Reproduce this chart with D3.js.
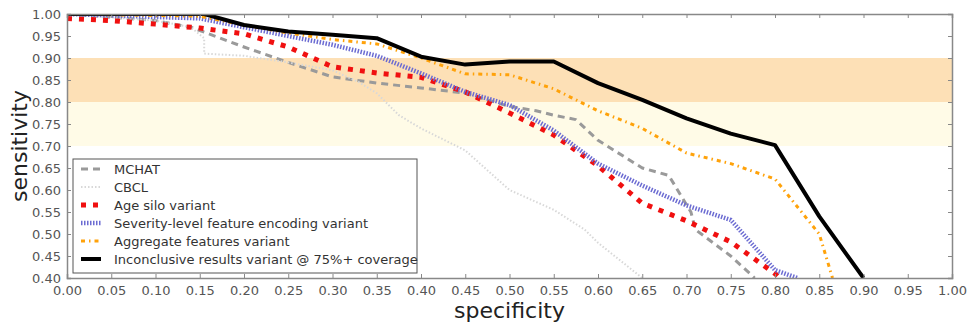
<!DOCTYPE html>
<html>
<head>
<meta charset="utf-8">
<script src="https://cdn.jsdelivr.net/npm/d3@7"></script>
<style>
  body { margin: 0; background: #fff; }
  text { font-family: "DejaVu Sans", sans-serif; }
</style>
</head>
<body>
<script>
// ROC-like curves: sensitivity vs specificity
var mchat = [[0,1.0],[0.10,0.985],[0.14,0.97],[0.16,0.955],[0.20,0.925],[0.25,0.89],[0.30,0.857],[0.35,0.843],[0.40,0.832],[0.45,0.82],[0.50,0.79],[0.53,0.78],[0.55,0.77],[0.575,0.76],[0.60,0.713],[0.65,0.65],[0.68,0.633],[0.705,0.55],[0.71,0.51],[0.75,0.45],[0.777,0.40]];
var cbcl = [[0,1.0],[0.10,0.985],[0.14,0.97],[0.155,0.945],[0.155,0.91],[0.20,0.905],[0.25,0.89],[0.30,0.872],[0.33,0.845],[0.35,0.82],[0.375,0.77],[0.40,0.74],[0.45,0.69],[0.50,0.60],[0.55,0.555],[0.585,0.51],[0.60,0.48],[0.65,0.40]];
var ageSilo = [[0,0.99],[0.05,0.985],[0.10,0.977],[0.15,0.968],[0.20,0.955],[0.25,0.925],[0.30,0.88],[0.35,0.866],[0.40,0.856],[0.45,0.823],[0.50,0.775],[0.55,0.725],[0.60,0.655],[0.65,0.57],[0.70,0.53],[0.75,0.482],[0.80,0.41],[0.805,0.40]];
var severity = [[0,1.0],[0.15,0.99],[0.20,0.97],[0.25,0.95],[0.30,0.93],[0.35,0.905],[0.40,0.865],[0.45,0.823],[0.50,0.793],[0.55,0.735],[0.60,0.66],[0.65,0.61],[0.70,0.565],[0.75,0.532],[0.80,0.418],[0.825,0.40]];
var aggregate = [[0,1.0],[0.15,0.995],[0.20,0.975],[0.25,0.957],[0.30,0.942],[0.35,0.932],[0.40,0.90],[0.45,0.864],[0.50,0.862],[0.55,0.83],[0.60,0.78],[0.65,0.74],[0.70,0.684],[0.75,0.66],[0.80,0.625],[0.85,0.50],[0.865,0.40]];
var inconclusive = [[0,1.0],[0.155,1.0],[0.20,0.975],[0.25,0.96],[0.30,0.953],[0.35,0.945],[0.40,0.903],[0.45,0.885],[0.50,0.892],[0.55,0.892],[0.60,0.843],[0.65,0.805],[0.70,0.763],[0.75,0.728],[0.80,0.702],[0.85,0.54],[0.90,0.40]];

var seriesNames = ["MCHAT", "CBCL", "Age silo variant", "Severity-level feature encoding variant", "Aggregate features variant", "Inconclusive results variant @ 75%+ coverage"];
var seriesData = [mchat, cbcl, ageSilo, severity, aggregate, inconclusive];
var bands = [[0.8, 0.9], [0.7, 0.8]];
var xTicks = d3.range(0, 1.0001, 0.05);
var yTicks = d3.range(0.40, 1.0001, 0.05);

var styles = [
    { color: "#9a9a9a", width: 3, dash: "7,5" },
    { color: "#d8d8d8", width: 2, dash: "1.5,2" },
    { color: "#f01010", width: 5, dash: "5,7" },
    { color: "#6b6bd2", width: 4.5, dash: "1.5,1.5" },
    { color: "#ffa20a", width: 3, dash: "4,4,1.5,4" },
    { color: "#000000", width: 4, dash: null }
];
var bandColors = ["#fde0b6", "#fffbe7"];

var margin = { top: 14, bottom: 47, left: 67, right: 16 };
var W = 968, H = 325;
var width = W - margin.left - margin.right;
var height = H - margin.top - margin.bottom;

var svg = d3.select("body").append("svg")
    .attr("width", W)
    .attr("height", H);

var chart = svg.append("g")
    .attr("transform", "translate(" + margin.left + "," + margin.top + ")");

var xScale = d3.scaleLinear().domain([0, 1]).range([0, width]);
var yScale = d3.scaleLinear().domain([0.4, 1.0]).range([height, 0]);

chart.append("clipPath").attr("id", "clip")
    .append("rect").attr("width", width).attr("height", height);

// shaded bands
chart.selectAll("rect.band")
    .data(bands)
    .enter().append("rect")
    .attr("class", "band")
    .attr("x", 0)
    .attr("width", width)
    .attr("y", d => yScale(d[1]))
    .attr("height", d => yScale(d[0]) - yScale(d[1]))
    .attr("fill", (d, i) => bandColors[i]);

var line = d3.line()
    .x(d => xScale(d[0]))
    .y(d => yScale(d[1]));

var lines = chart.append("g").attr("clip-path", "url(#clip)");
seriesData.forEach(function (s, i) {
    lines.append("path")
        .datum(s)
        .attr("d", line)
        .attr("fill", "none")
        .attr("stroke", styles[i].color)
        .attr("stroke-width", styles[i].width)
        .attr("stroke-dasharray", styles[i].dash)
        .attr("stroke-linejoin", "round");
});

// axes: ticks inside on all four sides
var fmt = d3.format(".2f");
var xAxis = chart.append("g")
    .attr("transform", "translate(0," + height + ")")
    .call(d3.axisBottom(xScale).tickValues(xTicks).tickFormat(fmt).tickSize(-4).tickPadding(8));
var yAxis = chart.append("g")
    .call(d3.axisLeft(yScale).tickValues(yTicks).tickFormat(fmt).tickSize(-4).tickPadding(6));
chart.append("g")
    .call(d3.axisTop(xScale).tickValues(xTicks).tickFormat("").tickSize(-4));
chart.append("g")
    .attr("transform", "translate(" + width + ",0)")
    .call(d3.axisRight(yScale).tickValues(yTicks).tickFormat("").tickSize(-4));

chart.selectAll(".domain").attr("stroke", "#888").attr("stroke-width", 1.5);
chart.selectAll(".tick line").attr("stroke", "#888");
chart.selectAll(".tick text").attr("fill", "#555").style("font-size", "13px");

// axis labels
svg.append("text")
    .attr("x", margin.left + width / 2)
    .attr("y", 318)
    .attr("text-anchor", "middle")
    .attr("fill", "#222")
    .style("font-size", "22px")
    .text("specificity");
svg.append("text")
    .attr("transform", "translate(27," + (margin.top + height / 2) + ") rotate(-90)")
    .attr("text-anchor", "middle")
    .attr("fill", "#222")
    .style("font-size", "22px")
    .text("sensitivity");

// legend
var legend = chart.append("g").attr("transform", "translate(6,145)");
legend.append("rect")
    .attr("width", 344)
    .attr("height", 114)
    .attr("fill", "#fff")
    .attr("stroke", "#555")
    .attr("stroke-width", 1);
seriesNames.forEach(function (name, i) {
    var y = 10 + i * 18;
    legend.append("line")
        .attr("x1", 8).attr("x2", 28)
        .attr("y1", y).attr("y2", y)
        .attr("stroke", styles[i].color)
        .attr("stroke-width", styles[i].width)
        .attr("stroke-dasharray", styles[i].dash);
    legend.append("text")
        .attr("x", 41)
        .attr("y", y)
        .attr("dy", "0.35em")
        .attr("fill", "#333")
        .style("font-size", "13px")
        .text(name);
});
</script>
</body>
</html>
